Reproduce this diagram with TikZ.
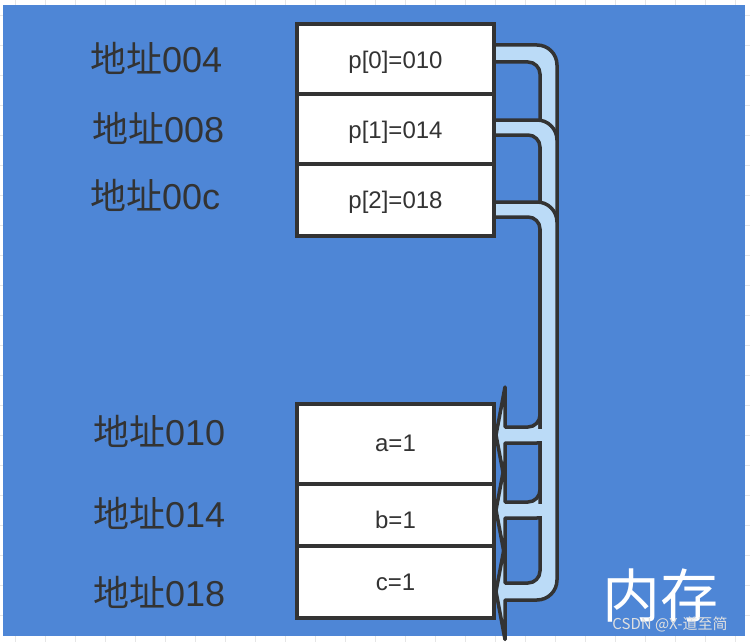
\documentclass[tikz,border=0pt]{standalone}
\usepackage{fontspec}
\setmainfont{Liberation Sans}
\newfontfamily\cjk{Noto Sans CJK SC}
\definecolor{bgblue}{RGB}{78,134,214}
\definecolor{arrowfill}{RGB}{187,219,247}
\definecolor{ink}{RGB}{51,51,51}
\definecolor{gridc}{RGB}{230,230,230}
\begin{document}
\begin{tikzpicture}[x=1pt,y=-1pt,
  cell/.style={draw=ink, line width=3.5pt, fill=white, minimum width=197pt,
    inner sep=0pt, outer sep=0pt, anchor=north west},
  celltext/.style={anchor=base, inner sep=0pt, font=\fontsize{24}{24}\selectfont, text=ink},
  addr/.style={anchor=base west, inner sep=0pt, font=\fontsize{36}{36}\selectfont, text=ink},
  ptr/.style={draw=ink, line width=3.5pt, fill=arrowfill, line join=round}]
\useasboundingbox (0,0) rectangle (750,642);
% page with faint grid
\fill[white] (0,0) rectangle (750,642);
\foreach \gx in {15,45,...,735} \draw[gridc, line width=0.8pt] (\gx,0) -- (\gx,642);
\foreach \gy in {15,45,...,635} \draw[gridc, line width=0.8pt] (0,\gy) -- (750,\gy);
% blue panel
\fill[bgblue] (3,5) rectangle (745,636);
% pointer arrows
\draw[ptr] (494,45) -- (537,45) .. controls (548.04,45) and (557,53.96) .. (557,65)
  -- (557,423) .. controls (557,434.04) and (548.04,443) .. (537,443)
  -- (505,443) -- (505,483) -- (496,435) -- (505,387) -- (505,427)
  -- (528,427) .. controls (534.6,427) and (540,421.6) .. (540,415)
  -- (540,74) .. controls (540,67.4) and (534.6,62) .. (528,62)
  -- (494,62) -- cycle;
\draw[ptr] (494,120) -- (537,120) .. controls (548.04,120) and (557,128.96) .. (557,140)
  -- (557,498) .. controls (557,509.04) and (548.04,518) .. (537,518)
  -- (505,518) -- (505,558) -- (496,510) -- (505,462) -- (505,502)
  -- (528,502) .. controls (534.6,502) and (540,496.6) .. (540,490)
  -- (540,147) .. controls (540,140.4) and (534.6,135) .. (528,135)
  -- (494,135) -- cycle;
\draw[ptr] (494,202) -- (537,202) .. controls (548.04,202) and (557,210.96) .. (557,222)
  -- (557,580) .. controls (557,591.04) and (548.04,600) .. (537,600)
  -- (505,600) -- (505,639.5) -- (496,591.5) -- (505,543.5) -- (505,583)
  -- (528,583) .. controls (534.6,583) and (540,577.6) .. (540,571)
  -- (540,229) .. controls (540,222.4) and (534.6,217) .. (528,217)
  -- (494,217) -- cycle;
% merge the trunk with the lower shafts
\fill[arrowfill] (537.5,429) rectangle (543.5,441);
\fill[arrowfill] (537.5,504) rectangle (543.5,516);
% memory cells
\node[cell, minimum height=70pt] (p0) at (297,24) {};
\node[cell, minimum height=70pt] (p1) at (297,94) {};
\node[cell, minimum height=72pt] (p2) at (297,164) {};
\node[cell, minimum height=80pt] (va) at (297,404) {};
\node[cell, minimum height=62pt] (vb) at (297,484) {};
\node[cell, minimum height=72pt] (vc) at (297,546) {};
\node[celltext] (tp0) at (395.5,68.5) {p[0]=010};
\node[celltext] (tp1) at (395.5,138.5) {p[1]=014};
\node[celltext] (tp2) at (395.5,208.5) {p[2]=018};
\node[celltext] (ta) at (395.5,451.5) {a=1};
\node[celltext] (tb) at (395.5,528.5) {b=1};
\node[celltext] (tc) at (395.5,590.5) {c=1};
% address labels
\node[addr] (l004) at (90,73) {{\cjk 地址}004};
\node[addr] (l008) at (92,142) {{\cjk 地址}008};
\node[addr] (l00c) at (90,209) {{\cjk 地址}00c};
\node[addr] (l010) at (93,445) {{\cjk 地址}010};
\node[addr] (l014) at (93,527) {{\cjk 地址}014};
\node[addr] (l018) at (93,606) {{\cjk 地址}018};
% title
\node[font=\cjk\fontsize{58}{58}\selectfont, text=white] (mem) at (660,596) {内存};
% watermark
\node[font=\cjk\fontsize{15}{15}\selectfont, text=white!88!black, inner sep=0pt] (wm) at (670,624) {CSDN @X-道至简};
\end{tikzpicture}
\end{document}
